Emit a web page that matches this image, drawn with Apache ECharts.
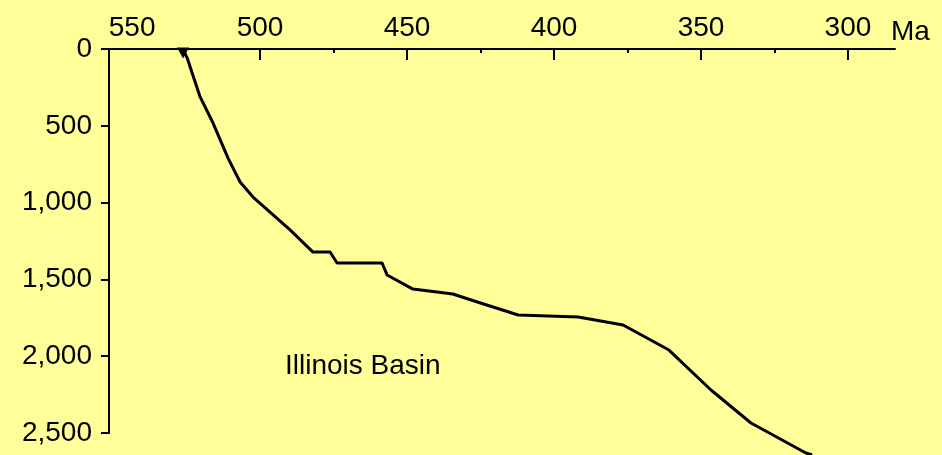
<!DOCTYPE html>
<html>
<head>
<meta charset="utf-8">
<script src="https://cdn.jsdelivr.net/npm/echarts@6/dist/echarts.min.js"></script>
<style>
html,body{margin:0;padding:0;background:#FFFF99;}
#c{width:942px;height:455px;}
</style>
</head>
<body>
<div id="c"></div>
<script>
// Age (Ma) and depth (m) of the subsidence curve
const ages   = [526.2, 524.8, 520.4, 516.0, 510.9, 506.8, 502.4, 489.8, 482.0, 476.2, 473.8, 458.5, 456.8, 448.0, 434.4, 428.2, 412.2, 391.8, 376.5, 360.9, 346.6, 333.0, 314.3, 312.2];
const depths = [0, 59, 312, 482, 710, 866, 964, 1178, 1322, 1322, 1393, 1393, 1471, 1563, 1595, 1634, 1732, 1745, 1797, 1960, 2220, 2435, 2630, 2643];
const majorTicks = [500, 450, 400, 350, 300];
const xLabels = [550, 500, 450, 400, 350, 300];
const minorTicks = [475, 425, 375, 325];
const depthTicks = [0, 500, 1000, 1500, 2000, 2500];
const basinName = 'Illinois Basin';
const unitName = 'Ma';

const FONT = 'Liberation Sans, Arial, Helvetica, sans-serif';
const FS = 28;
const chart = echarts.init(document.getElementById('c'), null, {renderer: 'canvas'});
const lineData = ages.map((a, i) => {
  if (i === 0) return {value: [a, depths[i]], symbol: 'triangle', symbolSize: [12, 11], symbolRotate: 180, symbolOffset: [0, 4], itemStyle: {color: '#000', borderWidth: 0}};
  return [a, depths[i]];
});
chart.setOption({
  backgroundColor: '#FFFF99',
  animation: false,
  title: [
    {text: unitName, left: 891, top: 18, padding: 0, textStyle: {fontFamily: FONT, fontSize: FS, fontWeight: 'normal', color: '#000'}},
    {text: basinName, left: 285, top: 352, padding: 0, textStyle: {fontFamily: FONT, fontSize: 28, fontWeight: 'normal', color: '#000'}}
  ],
  grid: {left: 109, top: 49, right: 47, bottom: 22, containLabel: false},
  xAxis: [
    {
      type: 'value', position: 'top', inverse: true, min: 284, max: 551.4,
      axisLine: {show: true, lineStyle: {color: '#000', width: 2}},
      axisTick: {show: true, inside: true, length: 11, customValues: majorTicks, lineStyle: {color: '#000', width: 2}},
      axisLabel: {
        show: true, margin: 7, customValues: xLabels, color: '#000', fontFamily: FONT, fontSize: FS,
        formatter: v => v === 550 ? '{s|' + v + '}' : String(v),
        rich: {s: {fontFamily: FONT, fontSize: FS, color: '#000', padding: [0, 0, 0, 38]}}
      },
      splitLine: {show: false}
    },
    {
      type: 'value', position: 'top', inverse: true, min: 284, max: 551.4,
      axisLine: {show: false},
      axisTick: {show: true, inside: true, length: 4, customValues: minorTicks, lineStyle: {color: '#000', width: 2}},
      axisLabel: {show: false},
      splitLine: {show: false}
    }
  ],
  yAxis: {
    type: 'value', inverse: true, min: 0, max: 2500, interval: 500,
    axisLine: {show: true, lineStyle: {color: '#000', width: 2}},
    axisTick: {show: true, length: 8, customValues: depthTicks, lineStyle: {color: '#000', width: 2}},
    axisLabel: {
      margin: 17, color: '#000', fontFamily: FONT, fontSize: FS, customValues: depthTicks,
      formatter: v => v.toLocaleString('en-US')
    },
    splitLine: {show: false}
  },
  series: [{
    type: 'line', xAxisIndex: 0, data: lineData, clip: false,
    showSymbol: true, symbol: 'none', smooth: false,
    lineStyle: {color: '#000', width: 3, join: 'round'}
  }]
});
</script>
</body>
</html>
